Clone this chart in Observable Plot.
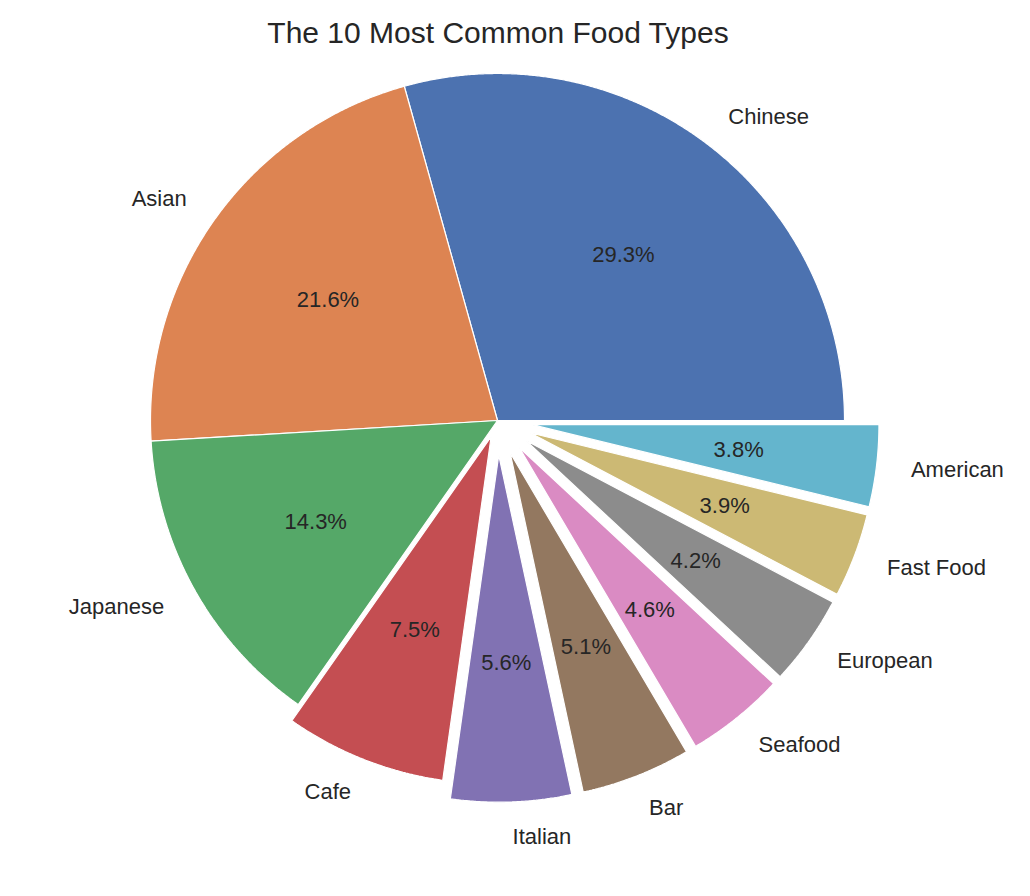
<!DOCTYPE html>
<html>
<head>
<meta charset="utf-8">
<script src="https://cdn.jsdelivr.net/npm/d3@7"></script>
<script src="https://cdn.jsdelivr.net/npm/@observablehq/plot@0.6"></script>
<style>
  html, body { margin: 0; padding: 0; background: #ffffff; }
  #title {
    width: 996px; height: 60px; line-height: 66px; overflow: visible;
    text-align: center; font-family: "Liberation Sans", Arial, sans-serif;
    font-size: 30px; color: #262626; white-space: nowrap;
  }
</style>
</head>
<body>
<div id="title">The 10 Most Common Food Types</div>
<div id="chart"></div>
<script>
// ---- data ----
const categories = ["Chinese", "Asian", "Japanese", "Cafe", "Italian", "Bar", "Seafood", "European", "Fast Food", "American"];
const shares = [29.3, 21.6, 14.3, 7.5, 5.6, 5.1, 4.6, 4.2, 3.9, 3.8];
const explode = [0, 0, 0, 0.05, 0.1, 0.1, 0.1, 0.1, 0.1, 0.1];
const palette = ["#4C72B0", "#DD8452", "#55A868", "#C44E52", "#8172B3", "#937860", "#DA8BC3", "#8C8C8C", "#CCB974", "#64B5CD"];

// ---- layout geometry (pixels) ----
const W = 1030, H = 836;
const CX = 497, CY = 360, R = 347;

// ---- wedge geometry in radius units ----
const total = d3.sum(shares);
const wedgePts = [];
const labels = [];
let cum = 0;
categories.forEach((name, i) => {
  const t1 = cum / total * 2 * Math.PI;
  const t2 = (cum + shares[i]) / total * 2 * Math.PI;
  cum += shares[i];
  const tm = (t1 + t2) / 2;
  const ex = explode[i] * Math.cos(tm), ey = explode[i] * Math.sin(tm);
  wedgePts.push({name, x: ex, y: ey});
  const n = Math.max(4, Math.ceil((t2 - t1) / (Math.PI / 720)));
  for (let k = 0; k <= n; k++) {
    const t = t1 + (t2 - t1) * k / n;
    wedgePts.push({name, x: ex + Math.cos(t), y: ey + Math.sin(t)});
  }
  labels.push({
    name,
    lx: ex + 1.1 * Math.cos(tm), ly: ey + 1.1 * Math.sin(tm),
    px: ex + 0.6 * Math.cos(tm), py: ey + 0.6 * Math.sin(tm),
    pct: (shares[i] / total * 100).toFixed(1) + "%"
  });
});

const font = "'Liberation Sans', Arial, sans-serif";
const textStyle = {fontSize: 22, fontFamily: font, fill: "#262626"};

const chart = Plot.plot({
  width: W, height: H,
  marginTop: 0, marginRight: 0, marginBottom: 0, marginLeft: 0,
  style: {background: "#ffffff", fontFamily: font, overflow: "visible"},
  x: {domain: [-CX / R, (W - CX) / R], axis: null},
  y: {domain: [-(H - CY) / R, CY / R], axis: null},
  color: {domain: categories, range: palette},
  marks: [
    Plot.line(wedgePts, {x: "x", y: "y", z: "name", fill: "name", stroke: "white", strokeWidth: 1.2, strokeLinejoin: "miter", curve: "linear-closed"}),
    Plot.text(labels.filter(d => d.lx > 0), {x: "lx", y: "ly", text: "name", textAnchor: "start", ...textStyle}),
    Plot.text(labels.filter(d => d.lx <= 0), {x: "lx", y: "ly", text: "name", textAnchor: "end", ...textStyle}),
    Plot.text(labels, {x: "px", y: "py", text: "pct", textAnchor: "middle", ...textStyle})
  ]
});
document.getElementById("chart").appendChild(chart);
</script>
</body>
</html>
